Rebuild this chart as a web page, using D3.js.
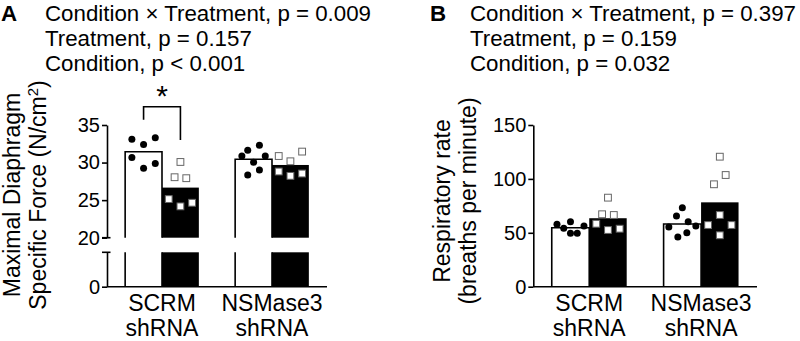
<!DOCTYPE html>
<html>
<head>
<meta charset="utf-8">
<script src="https://cdn.jsdelivr.net/npm/d3@7"></script>
<style>
  body { margin: 0; background: #fff; }
  svg { display: block; font-family: "Liberation Sans", Arial, sans-serif; }
</style>
</head>
<body>
<svg id="chart" width="800" height="341"></svg>
<script>
const categories = [["SCRM", "shRNA"], ["NSMase3", "shRNA"]]
const series = ["control", "treated"]

// panel A: diaphragm specific force (N/cm2), one value per animal
const forceControl = [
  [30.66, 29.25, 29.87, 33.09, 32.42, 33.3],
  [28.36, 29.02, 30.87, 30.04, 30.87, 31.63, 32.29]
]
const forceTreated = [
  [25.14, 24.17, 24.65, 28.05, 27.92, 30.08],
  [28.81, 28.23, 28.54, 30.87, 30.17, 31.46]
]
const forceTicksUpper = [20, 25, 30, 35]
const forceTicksLower = [0]

// panel B: respiratory rate (breaths per minute)
const rateControl = [
  [57.9, 54.2, 49.5, 49.5, 56.3, 60.3],
  [55.4, 46.1, 50.1, 56.3, 65.6, 60.3, 73.3]
]
const rateTreated = [
  [58.4, 52.6, 53.8, 67.2, 66.5, 82.6],
  [57.2, 47.7, 57.2, 66.5, 95.0, 103.6, 120.6]
]
const rateTicks = [0, 50, 100, 150]

const statsA = ["Condition × Treatment, p = 0.009", "Treatment, p = 0.157", "Condition, p < 0.001"]
const statsB = ["Condition × Treatment, p = 0.397", "Treatment, p = 0.159", "Condition, p = 0.032"]

const svg = d3.select("#chart")
const plotTop = 125
const base = 286.7
const breakHi = 237.7
const breakLo = 252.3
const lineW = 1.6

// prism-like scatter: points close in value share a row, spread sideways
function swarm(values, y, rowGap = 11.3, step = 11.7, maxSpan = 27) {
  const order = d3.range(values.length).sort((a, b) => values[a] - values[b])
  const rows = []
  let cur = null
  let start = 0
  order.forEach((i) => {
    const py = y(values[i])
    if (cur && Math.abs(py - start) < rowGap) cur.push(i)
    else {
      cur = [i]
      start = py
      rows.push(cur)
    }
  })
  const offsets = []
  rows.forEach((r) => {
    r.sort((a, b) => a - b)
    const s = r.length > 1 ? Math.min(step, maxSpan / (r.length - 1)) : 0
    r.forEach((i, k) => (offsets[i] = (k - (r.length - 1) / 2) * s))
  })
  return offsets
}

function drawPanel(p) {
  const g = svg.append("g")
  const x = d3
    .scaleBand()
    .domain(d3.range(categories.length))
    .range([p.left, p.right])
    .paddingInner(0.33)
    .paddingOuter(0.165)
  const sub = d3.scaleBand().domain(series).range([0, x.bandwidth()])
  const data = [p.control, p.treated]
  const top = p.segments[p.segments.length - 1]

  categories.forEach((cat, ci) => {
    series.forEach((s, si) => {
      const vals = data[si][ci]
      const mean = d3.mean(vals)
      const x0 = x(ci) + sub(s)
      const x1 = x0 + sub.bandwidth()
      p.segments.forEach((seg) => {
        const yTop = seg.scale(Math.min(mean, seg.hi))
        const yBot = seg.scale(seg.lo)
        if (si === 1) {
          g.append("rect")
            .attr("x", x0)
            .attr("y", yTop)
            .attr("width", x1 - x0)
            .attr("height", yBot - yTop)
            .attr("fill", "#000")
        } else {
          const capped = mean <= seg.hi
          g.append("path")
            .attr(
              "d",
              capped
                ? `M${x0},${yBot}V${yTop}H${x1}V${yBot}`
                : `M${x0},${yBot}V${yTop}M${x1},${yBot}V${yTop}`
            )
            .attr("fill", "#fff")
            .attr("stroke", "#000")
            .attr("stroke-width", lineW)
        }
      })
    })

    const cx = (s) => x(ci) + sub(s) + sub.bandwidth() / 2
    const cOff = swarm(p.control[ci], top.scale)
    g.selectAll(null)
      .data(p.control[ci])
      .join("circle")
      .attr("cx", (d, i) => cx("control") + cOff[i])
      .attr("cy", (d) => top.scale(d))
      .attr("r", 3.5)
      .attr("fill", "#000")

    const tOff = swarm(p.treated[ci], top.scale)
    g.selectAll(null)
      .data(p.treated[ci])
      .join("rect")
      .attr("x", (d, i) => cx("treated") + tOff[i] - 3.4)
      .attr("y", (d) => top.scale(d) - 3.4)
      .attr("width", 6.8)
      .attr("height", 6.8)
      .attr("fill", "#fff")
      .attr("stroke", "#666")
      .attr("stroke-width", 1)
  })

  // axes
  p.segments.forEach((seg) => {
    const ax = g
      .append("g")
      .attr("transform", `translate(${p.left},0)`)
      .call(
        d3
          .axisLeft(seg.scale)
          .tickValues(seg.ticks)
          .tickSize(5)
          .tickSizeOuter(0)
          .tickPadding(2)
      )
    ax.select(".domain").attr("stroke-width", lineW)
    ax.selectAll(".tick line").attr("stroke-width", lineW)
    ax.selectAll(".tick text")
      .attr("font-size", 20)
      .attr("font-family", "Liberation Sans, Arial, sans-serif")
      .attr("fill", "#000")
  })
  if (p.segments.length > 1) {
    ;[breakHi, breakLo].forEach((yy) => {
      g.append("line")
        .attr("x1", p.left - 5)
        .attr("x2", p.left + 3.5)
        .attr("y1", yy)
        .attr("y2", yy)
        .attr("stroke", "#000")
        .attr("stroke-width", lineW)
    })
  }
  g.append("line")
    .attr("x1", p.left)
    .attr("x2", p.right)
    .attr("y1", base)
    .attr("y2", base)
    .attr("stroke", "#000")
    .attr("stroke-width", lineW)

  // category labels
  categories.forEach((cat, ci) => {
    const t = g
      .append("text")
      .attr("text-anchor", "middle")
      .attr("font-size", 23)
    cat.forEach((line, li) => {
      t.append("tspan")
        .attr("x", x(ci) + x.bandwidth() / 2)
        .attr("y", 311 + li * 25)
        .text(line)
    })
  })

  // y label
  p.yLabel.forEach((line, li) => {
    const t = g
      .append("text")
      .attr("transform", `translate(${p.labelX[li]},${p.labelY}) rotate(-90)`)
      .attr("text-anchor", "middle")
      .attr("font-size", 23)
    if (typeof line === "string") t.text(line)
    else {
      t.append("tspan").text(line.text)
      t.append("tspan")
        .attr("baseline-shift", "super")
        .attr("font-size", 15)
        .text(line.sup)
      t.append("tspan").text(line.after)
    }
  })

  // heading + stats
  g.append("text")
    .attr("x", p.letterX)
    .attr("y", 20.5)
    .attr("font-size", 22.3)
    .attr("font-weight", "bold")
    .text(p.letter)
  p.stats.forEach((s, i) => {
    g.append("text")
      .attr("x", p.statsX)
      .attr("y", 20.5 + i * 25)
      .attr("font-size", 22.3)
      .text(s)
  })

  return {x, sub}
}

const yForceUpper = d3.scaleLinear().domain([20, 35]).range([breakHi, plotTop])
const yForceLower = d3.scaleLinear().domain([0, 20]).range([base, breakLo])
const yRate = d3.scaleLinear().domain([0, 150]).range([base, plotTop])

const a = drawPanel({
  left: 107,
  right: 327,
  control: forceControl,
  treated: forceTreated,
  segments: [
    {scale: yForceLower, lo: 0, hi: 20, ticks: forceTicksLower},
    {scale: yForceUpper, lo: 20, hi: 35, ticks: forceTicksUpper}
  ],
  yLabel: ["Maximal Diaphragm", {text: "Specific Force (N/cm", sup: "2", after: ")"}],
  labelX: [20, 46],
  labelY: 195,
  letter: "A",
  letterX: 1,
  stats: statsA,
  statsX: 45
})

drawPanel({
  left: 533.3,
  right: 757,
  control: rateControl,
  treated: rateTreated,
  segments: [{scale: yRate, lo: 0, hi: 150, ticks: rateTicks}],
  yLabel: ["Respiratory rate", "(breaths per minute)"],
  labelX: [450, 476],
  labelY: 201,
  letter: "B",
  letterX: 430,
  stats: statsB,
  statsX: 470
})

// significance bracket, SCRM control vs treated in panel A
const bx0 = a.x(0) + a.sub("control") + a.sub.bandwidth() / 2
const bx1 = a.x(0) + a.sub("treated") + a.sub.bandwidth() / 2
const by0 = yForceUpper(d3.max(forceControl[0])) - 18
const by1 = yForceUpper(d3.max(forceTreated[0])) - 22
const byTop = by0 - 13
svg.append("path")
  .attr("d", `M${bx0},${by0}V${byTop}H${bx1}V${by1}`)
  .attr("fill", "none")
  .attr("stroke", "#000")
  .attr("stroke-width", lineW)
svg.append("text")
  .attr("x", (bx0 + bx1) / 2)
  .attr("y", byTop - 1)
  .attr("text-anchor", "middle")
  .attr("font-size", 30)
  .text("*")
</script>
</body>
</html>
